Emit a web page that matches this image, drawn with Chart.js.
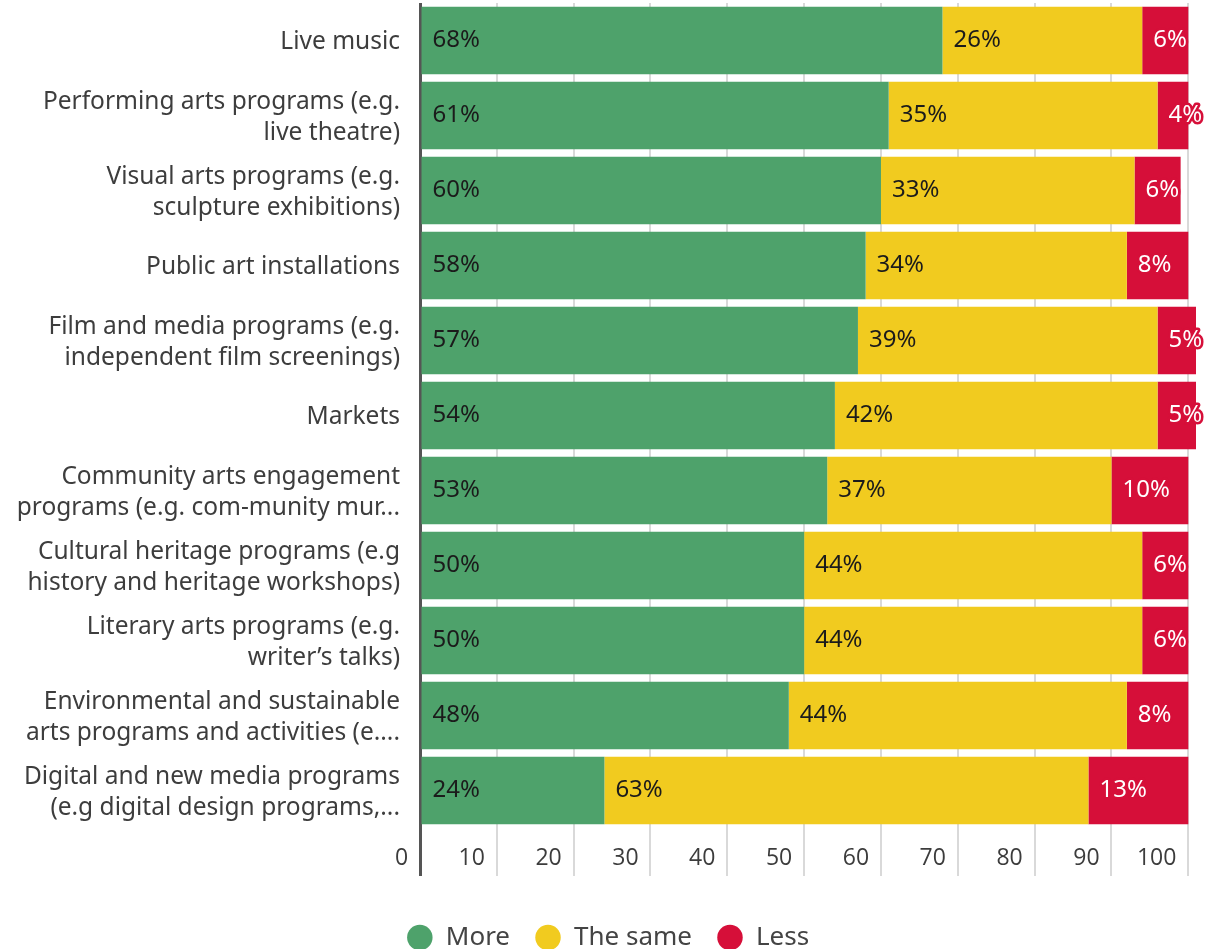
<!DOCTYPE html>
<html>
<head>
<meta charset="utf-8">
<script src="https://cdn.jsdelivr.net/npm/chart.js@4.4.1/dist/chart.umd.min.js"></script>
<style>
  html, body { margin: 0; padding: 0; background: #fff; }
  #wrap { width: 1216px; height: 949px; }
</style>
</head>
<body>
<div id="wrap"><canvas id="chart"></canvas></div>
<script>
const categories = [
  'Live music',
  ['Performing arts programs (e.g.', 'live theatre)'],
  ['Visual arts programs (e.g.', 'sculpture exhibitions)'],
  'Public art installations',
  ['Film and media programs (e.g.', 'independent film screenings)'],
  'Markets',
  ['Community arts engagement', 'programs (e.g. com-munity mur...'],
  ['Cultural heritage programs (e.g', 'history and heritage workshops)'],
  ['Literary arts programs (e.g.', 'writer\u2019s talks)'],
  ['Environmental and sustainable', 'arts programs and activities (e....'],
  ['Digital and new media programs', '(e.g digital design programs,...']
];
const moreValues = [68, 61, 60, 58, 57, 54, 53, 50, 50, 48, 24];
const sameValues = [26, 35, 33, 34, 39, 42, 37, 44, 44, 44, 63];
const lessValues = [6, 4, 6, 8, 5, 5, 10, 6, 6, 8, 13];
const xTicks = [0, 10, 20, 30, 40, 50, 60, 70, 80, 90, 100];

const GREEN = '#4ea26b';
const YELLOW = '#f1cb1f';
const RED = '#d60f39';

// percentage text at the left edge of every segment
const barLabels = {
  id: 'barLabels',
  afterDatasetsDraw(chart) {
    const ctx = chart.ctx;
    ctx.save();
    ctx.font = '24px "Noto Sans"';
    ctx.textBaseline = 'middle';
    ctx.textAlign = 'left';
    ctx.lineJoin = 'round';
    chart.data.datasets.forEach((ds, di) => {
      chart.getDatasetMeta(di).data.forEach((bar, i) => {
        const text = ds.data[i] + '%';
        const x = Math.min(bar.x, bar.base) + 11;
        if (di === 2) {
          ctx.lineWidth = 5;
          ctx.strokeStyle = ds.backgroundColor;
          ctx.strokeText(text, x, bar.y);
          ctx.fillStyle = '#ffffff';
        } else {
          ctx.fillStyle = '#1b1b1b';
        }
        ctx.fillText(text, x, bar.y);
      });
    });
    ctx.restore();
  }
};

// legend row sits a little right of the canvas centre
const legendNudge = {
  id: 'legendNudge',
  afterLayout(chart) {
    if (chart.legend) chart.legend.left += 20;
  }
};

new Chart(document.getElementById('chart'), {
  type: 'bar',
  data: {
    labels: categories,
    datasets: [
      { label: 'More', data: moreValues, backgroundColor: GREEN },
      { label: 'The same', data: sameValues, backgroundColor: YELLOW },
      { label: 'Less', data: lessValues, backgroundColor: RED }
    ]
  },
  options: {
    indexAxis: 'y',
    responsive: true,
    maintainAspectRatio: false,
    animation: false,
    barPercentage: 0.9,
    categoryPercentage: 1.0,
    layout: { padding: { top: 3, right: 20, left: 0, bottom: -11.5 } },
    scales: {
      x: {
        stacked: true,
        min: 0,
        max: 101,
        afterBuildTicks: (scale) => { scale.ticks = xTicks.map(v => ({ value: v })); },
        afterFit: (scale) => { scale.height = 71.5; },
        border: { display: false },
        grid: {
          color: (c) => c.tick && c.tick.value === 0 ? '#555555' : '#d9d9d9',
          lineWidth: (c) => c.tick && c.tick.value === 0 ? 3 : 2,
          drawTicks: true,
          tickLength: 48
        },
        ticks: {
          align: 'end',
          padding: -31,
          color: '#3c3c3c',
          font: { family: '"Open Sans"', size: 23 },
          callback: (v) => v + '  '
        }
      },
      y: {
        stacked: true,
        afterFit: (scale) => {
          scale.width = 420;
          scale.paddingTop = 0;
          scale.paddingBottom = 0;
        },
        border: { display: false },
        grid: { display: false, drawTicks: false },
        ticks: {
          padding: 20,
          labelOffset: 2,
          color: '#3d3d3d',
          font: { family: '"Noto Sans"', size: 24.5, lineHeight: 1.27 }
        }
      }
    },
    plugins: {
      legend: {
        position: 'bottom',
        labels: {
          usePointStyle: true,
          pointStyle: 'circle',
          boxWidth: 26,
          boxHeight: 18,
          padding: 25,
          color: '#444444',
          font: { family: '"Noto Sans"', size: 26 }
        }
      },
      tooltip: { enabled: false }
    }
  },
  plugins: [barLabels, legendNudge]
});
</script>
</body>
</html>
